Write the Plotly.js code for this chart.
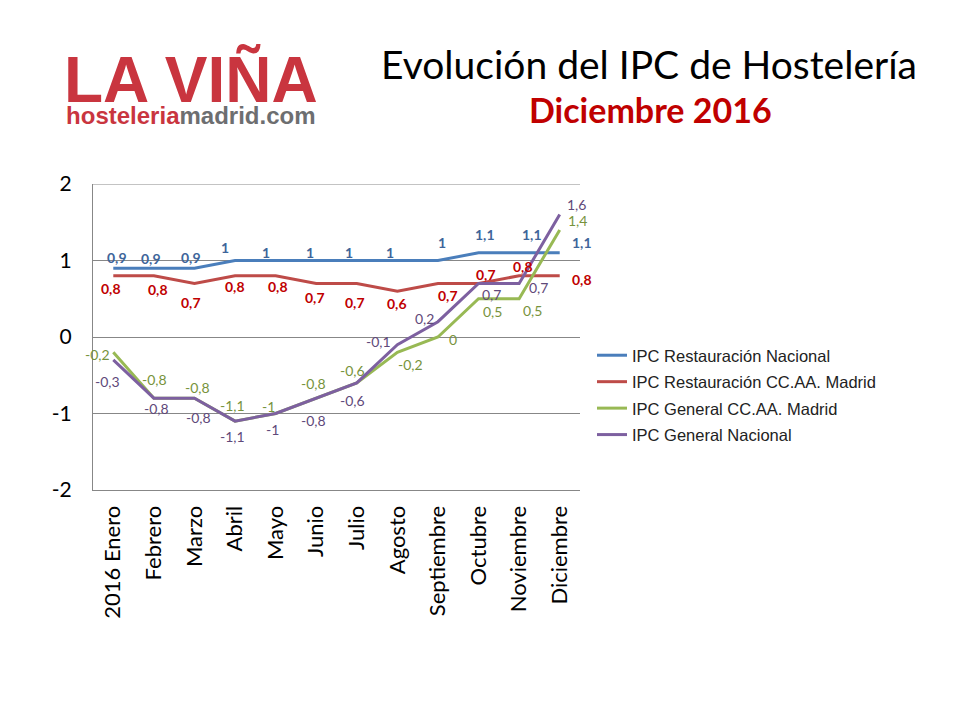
<!DOCTYPE html>
<html>
<head>
<meta charset="utf-8">
<script src="https://cdn.plot.ly/plotly-3.0.1.min.js"></script>
<style>
html,body{margin:0;padding:0;background:#fff;}
#chart{width:960px;height:720px;}
</style>
</head>
<body>
<div id="chart"></div>
<script>
// ---- data ----
const months = ["2016 Enero","Febrero","Marzo","Abril","Mayo","Junio","Julio","Agosto","Septiembre","Octubre","Noviembre","Diciembre"];
const seriesNames = ["IPC Restauración Nacional","IPC Restauración CC.AA. Madrid","IPC General CC.AA. Madrid","IPC General Nacional"];
const restNacional = [0.9,0.9,0.9,1,1,1,1,1,1,1.1,1.1,1.1];
const restMadrid   = [0.8,0.8,0.7,0.8,0.8,0.7,0.7,0.6,0.7,0.7,0.8,0.8];
const genMadrid    = [-0.2,-0.8,-0.8,-1.1,-1,-0.8,-0.6,-0.2,0,0.5,0.5,1.4];
const genNacional  = [-0.3,-0.8,-0.8,-1.1,-1,-0.8,-0.6,-0.1,0.2,0.7,0.7,1.6];
const yTicks = [-2,-1,0,1,2];

// ---- styles (label pixel offsets: [dx, dy] with dy downward) ----
const lineColors  = ["#4A7EBB","#BE4B48","#98B954","#7D60A0"];
const labelColors = ["#3E659A","#C00000","#77933C","#5F497A"];
const labelBold   = [true,true,false,false];
const labelOffsets = [
  [[4,-11],[-3,-10],[-3,-11],[-10,-13],[-10,-8],[-6,-8],[-8,-8],[-7,-8],[4,-18],[6,-18],[13,-18],[22,-10]],
  [[-2,13],[4,14],[-3,19],[0,11],[2,11],[-1,14],[-2,19],[0,12],[10,12],[7,-9],[4,-9],[22,4]],
  [[-16,2],[1,-19],[3,-11],[-3,-16],[-7,-7],[-3,-15],[-4,-12],[13,12],[15,2],[14,13],[13,12],[18,-9]],
  [[-6,22],[3,10],[4,19],[-3,15],[-3,16],[-3,22],[-4,18],[-19,-3],[-13,-3],[13,11],[19,4],[17,-10]]
];
const allSeries = [restNacional, restMadrid, genMadrid, genNacional];

const fmt = v => String(v).replace('.', ',');

const traces = allSeries.map((vals, i) => ({
  type: 'scatter',
  mode: 'lines',
  x: months,
  y: vals,
  name: seriesNames[i],
  legendgroup: 'g' + i,
  line: {color: lineColors[i], width: 3},
  hoverinfo: 'skip'
}));

const annotations = [];
allSeries.forEach((vals, i) => {
  vals.forEach((v, j) => {
    const t = fmt(v);
    annotations.push({
      x: months[j], y: v, xref: 'x', yref: 'y',
      text: labelBold[i] ? '<b>' + t + '</b>' : t,
      showarrow: false,
      xshift: labelOffsets[i][j][0],
      yshift: -labelOffsets[i][j][1],
      font: {family: 'Lato, sans-serif', size: 14, color: labelColors[i]},
      xanchor: 'center', yanchor: 'middle'
    });
  });
});

// pixel helpers for paper coordinates (plot area: x 93..580, y 184..490)
const PX = px => (px - 93) / 487;
const PY = py => (490 - py) / 306;

annotations.push({
  xref: 'paper', yref: 'paper', x: PX(650), y: PY(110),
  text: '<b>Diciembre 2016</b>', showarrow: false,
  xanchor: 'center', yanchor: 'middle',
  font: {family: 'Lato, sans-serif', size: 34, color: '#C00000'}
});
// logo: two lines in one text block
annotations.push({
  xref: 'paper', yref: 'paper', x: PX(191), y: PY(86),
  text: '<b><span style="font-size:64px">LA VIÑA</span><br>' +
        '<span style="font-size:24px">hosteleria<span style="color:#6D6E70">madrid.com</span></span></b>',
  showarrow: false, xanchor: 'center', yanchor: 'middle', align: 'center',
  font: {family: '"Liberation Sans", Arial, sans-serif', size: 17, color: '#C9353F'}
});

const layout = {
  width: 960, height: 720,
  paper_bgcolor: '#ffffff', plot_bgcolor: '#ffffff',
  margin: {l: 93, r: 380, t: 184, b: 230, pad: 0},
  showlegend: true,
  title: {
    text: 'Evolución del IPC de Hostelería',
    xref: 'container', yref: 'container',
    x: 649/960, y: 1 - 65/720, xanchor: 'center', yanchor: 'middle',
    font: {family: 'Lato, sans-serif', size: 39, color: '#000000'}
  },
  xaxis: {
    type: 'category',
    range: [-0.5, 11.5],
    tickangle: -90,
    tickfont: {family: 'Lato, sans-serif', size: 22, color: '#000000'},
    showline: true, linecolor: '#878787', linewidth: 1,
    showgrid: false, zeroline: false,
    ticks: '', ticklabelstandoff: 6,
    fixedrange: true
  },
  yaxis: {
    range: [-2, 2],
    tickvals: yTicks,
    ticktext: yTicks.map(String),
    tickfont: {family: 'Lato, sans-serif', size: 21, color: '#000000'},
    showline: true, linecolor: '#878787', linewidth: 1,
    showgrid: true, gridcolor: '#878787', gridwidth: 1,
    zeroline: true, zerolinecolor: '#878787', zerolinewidth: 1,
    ticks: '', ticklabelstandoff: 16,
    fixedrange: true
  },
  shapes: [{
    type: 'line', xref: 'paper', yref: 'y', x0: 0, x1: 1, y0: 2, y1: 2,
    line: {color: '#878787', width: 1}, layer: 'below'
  }],
  legend: {
    x: PX(592), y: PY(338), xanchor: 'left', yanchor: 'top',
    font: {family: '"Liberation Sans", Arial, sans-serif', size: 16.5, color: '#222222'},
    bgcolor: 'rgba(0,0,0,0)', borderwidth: 0,
    traceorder: 'grouped', tracegroupgap: 2
  },
  annotations: annotations
};

Plotly.newPlot('chart', traces, layout, {displayModeBar: false, staticPlot: true});
</script>
</body>
</html>
